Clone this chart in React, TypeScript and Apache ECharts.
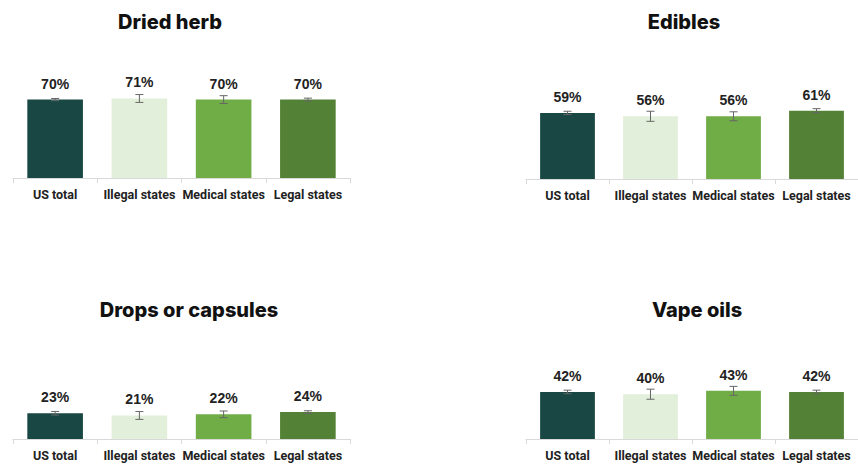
import React, { useEffect, useRef } from "react";
import * as echarts from "echarts";

const categories = ["US total", "Illegal states", "Medical states", "Legal states"];
const colors = ["#184744", "#e2efda", "#70ad47", "#538135"];

const titles = ["Dried herb", "Edibles", "Drops or capsules", "Vape oils"];
const driedHerb = [70, 71, 70, 70];
const edibles = [59, 56, 56, 61];
const drops = [23, 21, 22, 24];
const vapeOils = [42, 40, 43, 42];
const driedHerbErr = [1, 3.5, 3.5, 1.3];
const ediblesErr = [1.5, 4.5, 4, 1.8];
const dropsErr = [1.6, 3.5, 3, 1.2];
const vapeOilsErr = [1.6, 4.5, 4, 1.6];

const panelValues = [driedHerb, edibles, drops, vapeOils];
const panelErrors = [driedHerbErr, ediblesErr, dropsErr, vapeOilsErr];

export default function App() {
  const ref = useRef<HTMLDivElement>(null);
  useEffect(() => {
    document.body.style.margin = "0";
    const chart = echarts.init(ref.current!, null, { renderer: "svg" });
    const gridPos = [
      { left: 13, top: 66, width: 337, height: 112 },
      { left: 526, top: 67, width: 336, height: 112 },
      { left: 13, top: 327, width: 337, height: 112 },
      { left: 526, top: 327, width: 336, height: 112 },
    ];
    const titlePos = [
      { x: 170, y: 22 },
      { x: 684, y: 22 },
      { x: 189, y: 310 },
      { x: 697, y: 310 },
    ];
    const series: any[] = [];
    panelValues.forEach((vals, i) => {
      series.push({
        type: "bar",
        xAxisIndex: i,
        yAxisIndex: i,
        barWidth: "66%",
        data: vals.map((v, j) => ({ value: v, itemStyle: { color: colors[j] } })),
        label: {
          show: true,
          position: "top",
          distance: 9,
          formatter: "{c}%",
          fontFamily: "Liberation Sans",
          fontWeight: "bold",
          fontSize: 14,
          color: "#222",
        },
      });
      series.push({
        type: "custom",
        xAxisIndex: i,
        yAxisIndex: i,
        data: vals.map((v, j) => [j, v - panelErrors[i][j], v + panelErrors[i][j]]),
        renderItem: (params: any, api: any) => {
          const x = api.value(0);
          const lo = api.coord([x, api.value(1)]);
          const hi = api.coord([x, api.value(2)]);
          const hw = 4;
          const style = { stroke: "#666", lineWidth: 1 };
          return {
            type: "group",
            children: [
              { type: "line", shape: { x1: lo[0], y1: lo[1], x2: hi[0], y2: hi[1] }, style },
              { type: "line", shape: { x1: lo[0] - hw, y1: lo[1], x2: lo[0] + hw, y2: lo[1] }, style },
              { type: "line", shape: { x1: hi[0] - hw, y1: hi[1], x2: hi[0] + hw, y2: hi[1] }, style },
            ],
          };
        },
        z: 5,
      });
    });
    chart.setOption({
      animation: false,
      backgroundColor: "#fff",
      grid: gridPos.map((g) => ({ ...g, containLabel: false })),
      xAxis: gridPos.map((_, i) => ({
        type: "category",
        gridIndex: i,
        data: categories,
        axisLine: { lineStyle: { color: "#d9d9d9" } },
        axisTick: { show: true, length: 5, lineStyle: { color: "#d9d9d9" } },
        axisLabel: {
          margin: 10,
          fontFamily: "Roboto, sans-serif",
          fontWeight: "bold",
          fontSize: 12.5,
          color: "#222",
          interval: 0,
        },
      })),
      yAxis: gridPos.map((_, i) => ({
        type: "value",
        gridIndex: i,
        min: 0,
        max: 100,
        show: false,
        splitLine: { show: false },
      })),
      graphic: titles.map((t, i) => ({
        type: "text",
        x: titlePos[i].x,
        y: titlePos[i].y,
        style: {
          text: t,
          fontFamily: "Inter, sans-serif",
          fontWeight: 800,
          fontSize: 20,
          fill: "#111",
          textAlign: "center",
          textVerticalAlign: "middle",
        },
      })),
      series,
    });
    return () => chart.dispose();
  }, []);
  return <div ref={ref} style={{ width: 858, height: 464 }} />;
}
